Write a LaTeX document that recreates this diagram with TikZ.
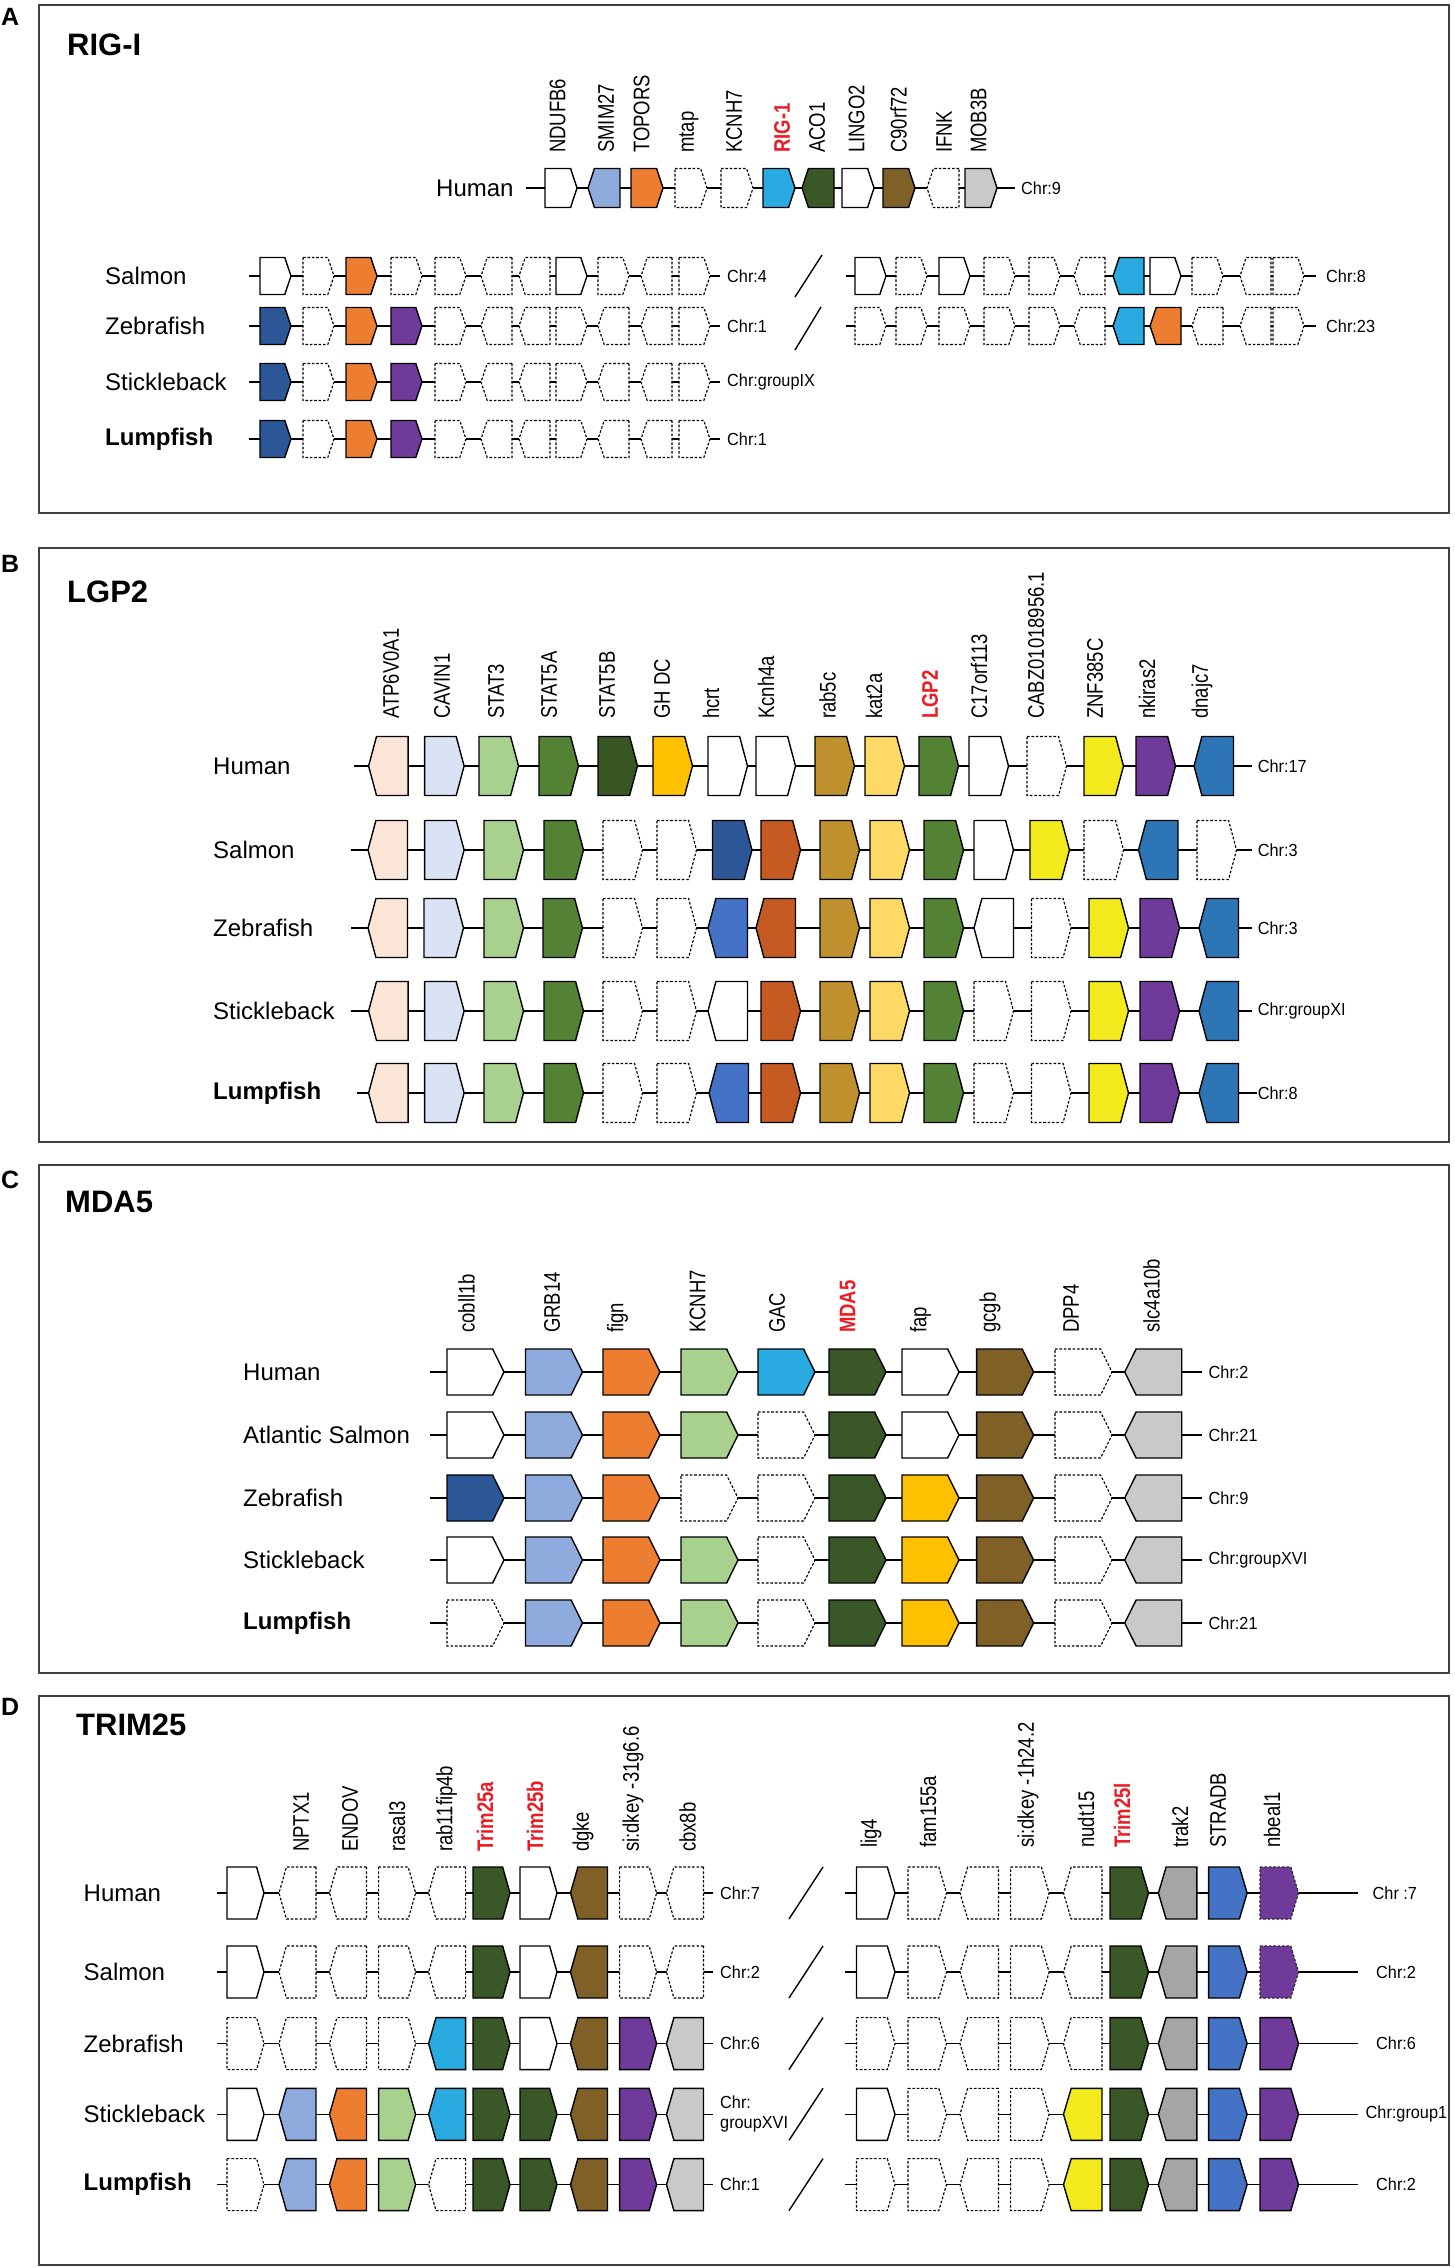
\documentclass[tikz,border=0pt]{standalone}
\usepackage{graphicx}
\usepackage{fontspec}
\setmainfont{Liberation Sans}
\definecolor{cLB}{HTML}{8FAADC}
\definecolor{cOR}{HTML}{ED7D31}
\definecolor{cCY}{HTML}{29ABE2}
\definecolor{cDG}{HTML}{3A5728}
\definecolor{cBR}{HTML}{7F6127}
\definecolor{cGY}{HTML}{C9C9C9}
\definecolor{cNV}{HTML}{2B5797}
\definecolor{cPU}{HTML}{703A9A}
\definecolor{cPE}{HTML}{FBE5D6}
\definecolor{cPB}{HTML}{DAE3F3}
\definecolor{cLG}{HTML}{A9D18E}
\definecolor{cGN}{HTML}{548235}
\definecolor{cDGB}{HTML}{375623}
\definecolor{cAM}{HTML}{FFC000}
\definecolor{cMU}{HTML}{BF902E}
\definecolor{cLY}{HTML}{FFD966}
\definecolor{cYE}{HTML}{F2EA1C}
\definecolor{cBL}{HTML}{2E75B6}
\definecolor{cMB}{HTML}{4472C4}
\definecolor{cRU}{HTML}{C55A23}
\definecolor{cTG}{HTML}{A5A5A5}
\definecolor{cRed}{HTML}{ED1C24}
\tikzset{
  gs/.style={draw=black, line width=1.4pt, line join=miter, fill=#1},
  gW/.style={gs=white}, gLB/.style={gs=cLB}, gOR/.style={gs=cOR},
  gCY/.style={gs=cCY}, gDG/.style={gs=cDG}, gBR/.style={gs=cBR},
  gGY/.style={gs=cGY}, gNV/.style={gs=cNV}, gPU/.style={gs=cPU},
  gPE/.style={gs=cPE}, gPB/.style={gs=cPB}, gLG/.style={gs=cLG},
  gGN/.style={gs=cGN}, gDGB/.style={gs=cDGB}, gAM/.style={gs=cAM},
  gMU/.style={gs=cMU}, gLY/.style={gs=cLY}, gYE/.style={gs=cYE},
  gBL/.style={gs=cBL}, gMB/.style={gs=cMB}, gRU/.style={gs=cRU},
  gTG/.style={gs=cTG},
  gD/.style={draw=black, line width=1.15pt, dash pattern=on 2.6pt off 1.8pt, fill=white},
  gPUD/.style={draw=black!85, line width=1.15pt, dash pattern=on 2.6pt off 1.8pt, fill=cPU},
  bbl/.style={draw=black, line width=1.4pt},
  panel/.style={draw=black!75, line width=1.8pt},
  slashl/.style={draw=black, line width=1.4pt},
  plet/.style={anchor=base west, inner sep=0pt, font=\fontsize{25}{28}\selectfont\bfseries},
  ptit/.style={anchor=base west, inner sep=0pt, font=\fontsize{31}{34}\selectfont\bfseries},
  sp/.style={anchor=west, inner sep=0pt, font=\fontsize{24}{28}\selectfont},
  spb/.style={sp, font=\fontsize{24}{28}\selectfont\bfseries},
  chr/.style={anchor=west, inner sep=0pt, align=left, font=\fontsize{17.5}{20}\selectfont},
  glab/.style={rotate=90, anchor=west, inner sep=0pt, font=\fontsize{18.5}{20}\selectfont},
  glabr/.style={glab, text=cRed, font=\fontsize{18.5}{20}\selectfont\bfseries}
}
\newcommand\stt[1]{\scalebox{1}[1.22]{#1}}
\newcommand\chs[1]{\scalebox{0.93}[1]{#1}}
% forward / reverse gene: x-left, y-centre, width, height, style
\newcommand\GF[5]{\path[#5] (#1,#2-#4/2) -- (#1+0.8*#3,#2-#4/2) -- (#1+#3,#2) -- (#1+0.8*#3,#2+#4/2) -- (#1,#2+#4/2) -- cycle;}
\newcommand\GR[5]{\path[#5] (#1+#3,#2-#4/2) -- (#1+0.2*#3,#2-#4/2) -- (#1,#2) -- (#1+0.2*#3,#2+#4/2) -- (#1+#3,#2+#4/2) -- cycle;}
\newcommand\gene[6]{\if#1f\GF{#2}{#3}{#4}{#5}{#6}\else\GR{#2}{#3}{#4}{#5}{#6}\fi}
\newcommand\grow[4]{\foreach \gx/\gd/\gst in {#4}{\edef\gtmp{\noexpand\gene{\gd}{\gx}{#1}{#2}{#3}{\gst}}\gtmp}}
\newcommand\glabs[3]{\foreach \lx/\lt [count=\li] in {#3}{\node[glab] (#1\li) at (\lx,#2) {\stt{\lt}};}}
% backbone ending at a chromosome label: name, x-start, y, label-x, label, gap
\newcommand\bbrow[6]{\coordinate (#1-s) at (#2,#3);
  \node[chr] (#1-c) at (#4,#3) {#5};
  \draw[bbl, shorten >=#6pt] (#1-s) -- (#1-c.west);}
% backbone with explicit end: name, x-start, x-end, y, label-x, label
\newcommand\bbrowE[6]{\coordinate (#1-s) at (#2,#4); \coordinate (#1-e) at (#3,#4);
  \node[chr] (#1-c) at (#5,#4) {#6};
  \draw[bbl] (#1-s) -- (#1-e);}
\begin{document}
\begin{tikzpicture}[x=1pt,y=-1pt]
\useasboundingbox (0,0) rectangle (1455,2268);
\fill[white] (0,0) rectangle (1455,2268);
% ---------- panel frames ----------
\draw[panel] (39,5) rectangle (1449,513);
\draw[panel] (39,548) rectangle (1449,1142);
\draw[panel] (39,1165) rectangle (1449,1673);
\draw[panel] (39,1696) rectangle (1449,2265);
\node[plet] (lA) at (1,25) {A};
\node[plet] (lB) at (1,572) {B};
\node[plet] (lC) at (1,1188) {C};
\node[plet] (lD) at (1,1715) {D};
\node[ptit] (tA) at (67,55) {RIG-I};
\node[ptit] (tB) at (67,602) {LGP2};
\node[ptit] (tC) at (65,1212) {MDA5};
\node[ptit] (tD) at (76,1735) {TRIM25};

% ================= PANEL A =================
\glabs{Al}{153}{557.5/NDUFB6,606/SMIM27,641.5/TOPORS,689/mtap,734/KCNH7,817/ACO1,856.5/LINGO2,898.5/C90rf72,944/IFNK,978.6/MOB3B}
\node[glabr] (Alr) at (782,153) {\stt{RIG-1}};
\node[sp] (Ah-n) at (436,188) {Human};
\bbrow{Ah}{526}{188}{1021}{\chs{Chr:9}}{6}
\grow{188}{32}{39}{545/f/gW,588/r/gLB,631/f/gOR,675/f/gD,721/f/gD,763/f/gCY,802/r/gDG,842/f/gW,883/f/gBR,927/r/gD,965/f/gGY}

\node[sp] (As-n) at (105,276) {Salmon};
\node[sp] (Az-n) at (105,326) {Zebrafish};
\node[sp] (At-n) at (105,382) {Stickleback};
\node[spb] (Au-n) at (105,439) {Lumpfish};
\bbrow{As}{249}{276}{727}{\chs{Chr:4}}{7}
\bbrow{Az}{249}{326}{727}{\chs{Chr:1}}{7}
\bbrow{At}{249}{382}{727}{\chs{Chr:groupIX}}{7}
\bbrow{Au}{249}{439}{727}{\chs{Chr:1}}{7}
\bbrow{Asr}{846}{276}{1326}{\chs{Chr:8}}{10}
\bbrow{Azr}{846}{326}{1326}{\chs{Chr:23}}{10}
\draw[slashl] (795,297) -- (822,255);
\draw[slashl] (795,350) -- (821,307);
\grow{276}{31}{37}{260/f/gW,303/f/gD,346/f/gOR,391/f/gD,435/f/gD,481/r/gD,519/r/gD,556/f/gW,598/f/gD,641/r/gD,679/f/gD}
\grow{326}{31}{37}{260/f/gNV,303/f/gD,346/f/gOR,391/f/gPU,435/f/gD,481/r/gD,519/r/gD,556/f/gD,598/r/gD,641/r/gD,679/f/gD}
\grow{382}{31}{37}{260/f/gNV,303/f/gD,346/f/gOR,391/f/gPU,435/f/gD,481/r/gD,519/r/gD,556/f/gD,598/r/gD,641/r/gD,679/f/gD}
\grow{439}{31}{37}{260/f/gNV,303/f/gD,346/f/gOR,391/f/gPU,435/f/gD,481/r/gD,519/r/gD,556/f/gD,598/r/gD,641/r/gD,679/f/gD}
\grow{276}{31}{37}{855/f/gW,896/f/gD,939/f/gW,984/f/gD,1029/f/gD,1074/r/gD,1113/r/gCY,1150/f/gW,1192/f/gD,1240/r/gD,1273/f/gD}
\grow{326}{31}{37}{855/f/gD,896/f/gD,939/f/gD,984/f/gD,1029/f/gD,1074/r/gD,1113/r/gCY,1150/r/gOR,1192/r/gD,1240/r/gD,1273/f/gD}

% ================= PANEL B =================
\glabs{Bl}{719}{391/ATP6V0A1,442/CAVIN1,496/STAT3,549/STAT5A,607/STAT5B,662/GH DC,711/hcrt,766/Kcnh4a,827.6/rab5c,874/kat2a,979/C17orf113,1036/CABZ01018956.1,1095/ZNF385C,1147/nkiras2,1202/dnajc7}
\node[glabr] (Blr) at (930,719) {\stt{LGP2}};
\node[sp] (Bh-n) at (213,766) {Human};
\node[sp] (Bs-n) at (213,850) {Salmon};
\node[sp] (Bz-n) at (213,928) {Zebrafish};
\node[sp] (Bt-n) at (213,1011) {Stickleback};
\node[spb] (Bu-n) at (213,1093) {Lumpfish};
\bbrow{Bh}{353.6}{766}{1257.7}{\chs{Chr:17}}{6}
\bbrow{Bs}{351}{850}{1257.7}{\chs{Chr:3}}{6}
\bbrow{Bz}{351}{928}{1257.7}{\chs{Chr:3}}{6}
\bbrow{Bt}{351}{1011}{1257.7}{\chs{Chr:groupXI}}{6}
\bbrow{Bu}{357}{1093}{1257.7}{\chs{Chr:8}}{1}
\grow{766}{39.5}{59}{368.6/r/gPE,424.6/f/gPB,479/f/gLG,539/f/gGN,598/f/gDGB,653/f/gAM,708/f/gW,756/f/gW,815/f/gMU,865/f/gLY,919/f/gGN,969/f/gW,1027/f/gD,1084/f/gYE,1136/f/gPU,1194/r/gBL}
\grow{850}{39.5}{59}{368/r/gPE,424.6/f/gPB,484/f/gLG,544/f/gGN,603/f/gD,657/f/gD,712.5/f/gNV,761/f/gRU,820/f/gMU,870/f/gLY,924/f/gGN,974/f/gW,1030/f/gYE,1084/f/gD,1138.5/r/gBL,1197/f/gD}
\grow{928}{39.5}{59}{368/r/gPE,424/f/gPB,484/f/gLG,543/f/gGN,603/f/gD,657/f/gD,708/r/gMB,756/r/gRU,820/f/gMU,870/f/gLY,924/f/gGN,974/r/gW,1031.5/f/gD,1089/f/gYE,1140/f/gPU,1199/r/gBL}
\grow{1011}{39.5}{59}{368.6/r/gPE,424.6/f/gPB,484/f/gLG,544/f/gGN,603/f/gD,657/f/gD,708/r/gW,761/f/gRU,820/f/gMU,870/f/gLY,924/f/gGN,974/f/gD,1031.5/f/gD,1089/f/gYE,1140/f/gPU,1199/r/gBL}
\grow{1093}{39.5}{59}{368.6/r/gPE,424.6/f/gPB,484/f/gLG,544/f/gGN,603/f/gD,657/f/gD,709/r/gMB,761/f/gRU,820/f/gMU,870/f/gLY,924/f/gGN,974/f/gD,1031.5/f/gD,1089/f/gYE,1140/f/gPU,1199/r/gBL}

% ================= PANEL C =================
\glabs{Cl}{1333}{466.6/cobll1b,552/GRB14,617.6/fign,697.6/KCNH7,777/GAC,920.6/fap,990/gcgb,1071/DPP4,1151.5/slc4a10b}
\node[glabr] (Clr) at (847.6,1333) {\stt{MDA5}};
\node[sp] (Ch-n) at (243,1372) {Human};
\node[sp] (Cs-n) at (243,1435) {Atlantic Salmon};
\node[sp] (Cz-n) at (243,1498) {Zebrafish};
\node[sp] (Ct-n) at (243,1560) {Stickleback};
\node[spb] (Cu-n) at (243,1623) {Lumpfish};
\bbrow{Ch}{430}{1372}{1208.5}{\chs{Chr:2}}{7}
\bbrow{Cs}{430}{1435}{1208.5}{\chs{Chr:21}}{7}
\bbrow{Cz}{430}{1498}{1208.5}{\chs{Chr:9}}{7}
\bbrow{Ct}{430}{1560}{1208.5}{\chs{Chr:groupXVI}}{7}
\bbrow{Cu}{430}{1623}{1208.5}{\chs{Chr:21}}{7}
\grow{1372}{57}{46}{447/f/gW,525.5/f/gLB,603/f/gOR,681/f/gLG,758/f/gCY,829/f/gDG,902/f/gW,976.6/f/gBR,1055/f/gD,1124.7/r/gGY}
\grow{1435}{57}{46}{447/f/gW,525.5/f/gLB,603/f/gOR,681/f/gLG,758/f/gD,829/f/gDG,902/f/gW,976.6/f/gBR,1055/f/gD,1124.7/r/gGY}
\grow{1498}{57}{46}{447/f/gNV,525.5/f/gLB,603/f/gOR,681/f/gD,758/f/gD,829/f/gDG,902/f/gAM,976.6/f/gBR,1055/f/gD,1124.7/r/gGY}
\grow{1560}{57}{46}{447/f/gW,525.5/f/gLB,603/f/gOR,681/f/gLG,758/f/gD,829/f/gDG,902/f/gAM,976.6/f/gBR,1055/f/gD,1124.7/r/gGY}
\grow{1623}{57}{46}{447/f/gD,525.5/f/gLB,603/f/gOR,681/f/gLG,758/f/gD,829/f/gDG,902/f/gAM,976.6/f/gBR,1055/f/gD,1124.7/r/gGY}

% ================= PANEL D =================
\glabs{Dl}{1852}{301/NPTX1,350/ENDOV,397/rasal3,446.6/rab11fip4b,583/dgke,633/si:dkey -31g6.6,687.5/cbx8b}
\node[glabr] (Dlr1) at (485,1852) {\stt{Trim25a}};
\node[glabr] (Dlr2) at (535,1852) {\stt{Trim25b}};
\glabs{Dr}{1848}{871/lig4,928/fam155a,1028/si:dkey -1h24.2,1086/nudt15,1180/trak2,1218/STRADB,1272/nbeal1}
\node[glabr] (Drr) at (1122,1848) {\stt{Trim25l}};
\node[sp] (Dh-n) at (83.5,1893) {Human};
\node[sp] (Ds-n) at (83.5,1972) {Salmon};
\node[sp] (Dz-n) at (83.5,2043.6) {Zebrafish};
\node[sp] (Dt-n) at (83.5,2114.3) {Stickleback};
\node[spb] (Du-n) at (83.5,2184.6) {Lumpfish};
\bbrow{Dh}{216.5}{1893}{720}{\chs{Chr:7}}{7}
\bbrow{Ds}{216.5}{1972}{720}{\chs{Chr:2}}{7}
\bbrow{Dz}{216.5}{2043.6}{720}{\chs{Chr:6}}{7}
\bbrow{Dt}{216.5}{2114.3}{720}{\chs{Chr:}\\\chs{groupXVI}}{7}
\bbrow{Du}{216.5}{2184.6}{720}{\chs{Chr:1}}{7}
\bbrowE{Dhr}{844.7}{1357.6}{1893}{1372.5}{\chs{Chr :7}}
\bbrowE{Dsr}{844.7}{1357.6}{1972}{1376}{\chs{Chr:2}}
\bbrowE{Dzr}{844.7}{1357.6}{2043.6}{1376}{\chs{Chr:6}}
\bbrowE{Dtr}{844.7}{1357.6}{2114.3}{1365.5}{\chs{Chr:group1}}
\bbrowE{Dur}{844.7}{1357.6}{2184.6}{1376}{\chs{Chr:2}}
\foreach \yy in {1893,1972,2043.6,2114.3,2184.6} {\draw[slashl] (789,\yy+26) -- (823,\yy-26);}
\grow{1893}{37}{52}{227/f/gW,279/r/gD,329.5/r/gD,378.6/f/gD,428.6/r/gD,473/f/gDG,520/f/gW,570.5/r/gBR,619.6/f/gD,666.5/r/gD}
\grow{1972}{37}{52}{227/f/gW,279/r/gD,329.5/r/gD,378.6/f/gD,428.6/r/gD,473/f/gDG,520/f/gW,570.5/r/gBR,619.6/f/gD,666.5/r/gD}
\grow{2043.6}{37}{52}{227/f/gD,279/r/gD,329.5/r/gD,378.6/f/gD,428.6/r/gCY,473/f/gDG,520/f/gW,570.5/r/gBR,619.6/f/gPU,666.5/r/gGY}
\grow{2114.3}{37}{52}{227/f/gW,279/r/gLB,329.5/r/gOR,378.6/f/gLG,428.6/r/gCY,473/f/gDG,520/f/gDG,570.5/r/gBR,619.6/f/gPU,666.5/r/gGY}
\grow{2184.6}{37}{52}{227/f/gD,279/r/gLB,329.5/r/gOR,378.6/f/gLG,428.6/r/gD,473/f/gDG,520/f/gDG,570.5/r/gBR,619.6/f/gPU,666.5/r/gGY}
\grow{1893}{38.5}{52}{856.5/f/gW,908/f/gD,960/r/gD,1010.6/f/gD,1063.5/r/gD,1110/f/gDG,1158.4/r/gTG,1208.6/f/gMB,1260/f/gPUD}
\grow{1972}{38.5}{52}{856.5/f/gW,908/f/gD,960/r/gD,1010.6/f/gD,1063.5/r/gD,1110/f/gDG,1158.4/r/gTG,1208.6/f/gMB,1260/f/gPUD}
\grow{2043.6}{38.5}{52}{856.5/f/gD,908/f/gD,960/r/gD,1010.6/f/gD,1063.5/r/gD,1110/f/gDG,1158.4/r/gTG,1208.6/f/gMB,1260/f/gPU}
\grow{2114.3}{38.5}{52}{856.5/f/gW,908/f/gD,960/r/gD,1010.6/f/gD,1063.5/r/gYE,1110/f/gDG,1158.4/r/gTG,1208.6/f/gMB,1260/f/gPU}
\grow{2184.6}{38.5}{52}{856.5/f/gD,908/f/gD,960/r/gD,1010.6/f/gD,1063.5/r/gYE,1110/f/gDG,1158.4/r/gTG,1208.6/f/gMB,1260/f/gPU}
\end{tikzpicture}
\end{document}
